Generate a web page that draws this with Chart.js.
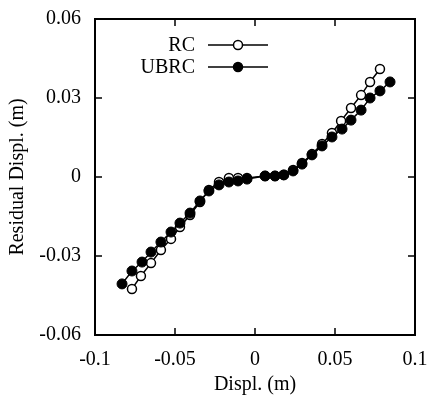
<!DOCTYPE html>
<html>
<head>
<meta charset="utf-8">
<script src="https://cdn.jsdelivr.net/npm/chart.js@4"></script>
<style>
  html, body { margin: 0; padding: 0; background: #fff; }
  #wrap { width: 428px; height: 401px; }
</style>
</head>
<body>
<div id="wrap"><canvas id="residualChart" width="428" height="401"></canvas></div>
<script>
// values
const rcX = [-0.0769, -0.0713, -0.065, -0.0588, -0.0525, -0.0469, -0.0406, -0.0344, -0.0288, -0.0225, -0.0163, -0.0106, -0.005,
  0.0063, 0.0125, 0.018, 0.0238, 0.0294, 0.0356, 0.0419, 0.0481, 0.0538, 0.06, 0.0663, 0.0719, 0.0781];
const rcY = [-0.0425, -0.0376, -0.0327, -0.0277, -0.0235, -0.019, -0.0144, -0.0095, -0.0049, -0.0019, -0.0004, -0.0004, -0.0004,
  0.0004, 0.0004, 0.0008, 0.0027, 0.0053, 0.0087, 0.0125, 0.0167, 0.0213, 0.0262, 0.0311, 0.0361, 0.041];
const ubrcX = [-0.0831, -0.0769, -0.0706, -0.065, -0.0588, -0.0525, -0.0469, -0.0406, -0.0344, -0.0288, -0.0225, -0.0163, -0.0106, -0.005,
  0.0063, 0.0125, 0.018, 0.0238, 0.0294, 0.0356, 0.0419, 0.0481, 0.0544, 0.06, 0.0663, 0.0719, 0.0781, 0.0844];
const ubrcY = [-0.0406, -0.0357, -0.0323, -0.0285, -0.0247, -0.0209, -0.0175, -0.0137, -0.0091, -0.0053, -0.003, -0.0019, -0.0015, -0.0008,
  0.0004, 0.0004, 0.0008, 0.0023, 0.0049, 0.0084, 0.0118, 0.0152, 0.0182, 0.0216, 0.0254, 0.03, 0.0327, 0.0361];

const xTicks = [-0.1, -0.05, 0, 0.05, 0.1];
const yTicks = [-0.06, -0.03, 0, 0.03, 0.06];
const xTickLabels = ["-0.1", "-0.05", "0", "0.05", "0.1"];
const yTickLabels = ["-0.06", "-0.03", "0", "0.03", "0.06"];
const seriesNames = ["RC", "UBRC"];

const FONT = "'Liberation Serif', 'DejaVu Serif', serif";

const toPoints = (xs, ys) => xs.map((x, i) => ({ x: x, y: ys[i] }));

// frame, inward ticks on all four sides, legend with text left of the sample
const framePlugin = {
  id: "frame",
  afterDraw(chart) {
    const c = chart.ctx;
    const a = chart.chartArea;
    const xs = chart.scales.x;
    const ys = chart.scales.y;
    c.save();
    c.strokeStyle = "#000";
    c.lineWidth = 2;
    c.strokeRect(a.left, a.top, a.right - a.left, a.bottom - a.top);
    c.lineWidth = 1.5;
    const tl = 7;
    xTicks.forEach((v) => {
      const px = xs.getPixelForValue(v);
      c.beginPath();
      c.moveTo(px, a.bottom); c.lineTo(px, a.bottom - tl);
      c.moveTo(px, a.top); c.lineTo(px, a.top + tl);
      c.stroke();
    });
    yTicks.forEach((v) => {
      const py = ys.getPixelForValue(v);
      c.beginPath();
      c.moveTo(a.left, py); c.lineTo(a.left + tl, py);
      c.moveTo(a.right, py); c.lineTo(a.right - tl, py);
      c.stroke();
    });

    // legend
    c.font = "20px " + FONT;
    c.textAlign = "right";
    c.textBaseline = "middle";
    c.fillStyle = "#000";
    chart.data.datasets.forEach((ds, i) => {
      const ly = a.top + 26 + i * 22;
      c.fillText(ds.label, a.left + 100, ly + 1);
      c.beginPath();
      c.lineWidth = 1.5;
      c.moveTo(a.left + 113, ly);
      c.lineTo(a.left + 173, ly);
      c.stroke();
      c.beginPath();
      c.arc(a.left + 143, ly, 4.5, 0, Math.PI * 2);
      c.fillStyle = ds.pointBackgroundColor;
      c.fill();
      c.stroke();
      c.fillStyle = "#000";
    });
    c.restore();
  },
};

const config = {
  type: "scatter",
  data: {
    datasets: [
      {
        label: seriesNames[0],
        data: toPoints(rcX, rcY),
        order: 1,
        showLine: true,
        borderColor: "#000",
        borderWidth: 1.5,
        pointRadius: 4.5,
        pointBorderWidth: 1.5,
        pointBackgroundColor: "#fff",
        pointBorderColor: "#000",
      },
      {
        label: seriesNames[1],
        data: toPoints(ubrcX, ubrcY),
        order: 0,
        showLine: true,
        borderColor: "#000",
        borderWidth: 1.5,
        pointRadius: 5,
        pointBorderWidth: 1,
        pointBackgroundColor: "#000",
        pointBorderColor: "#000",
      },
    ],
  },
  options: {
    responsive: false,
    animation: false,
    layout: { padding: { left: 0, right: 13, top: 19, bottom: 0 } },
    plugins: { legend: { display: false }, tooltip: { enabled: false } },
    scales: {
      x: {
        type: "linear",
        min: -0.1,
        max: 0.1,
        afterFit: (s) => {
          s.height = 66;
          s.paddingLeft = 0;
          s.paddingRight = 0;
        },
        afterBuildTicks: (s) => { s.ticks = xTicks.map((v) => ({ value: v })); },
        grid: { display: false },
        border: { display: false },
        ticks: {
          color: "#000",
          padding: 5,
          maxRotation: 0,
          font: { family: FONT, size: 20 },
          callback: (v) => xTickLabels[xTicks.indexOf(v)] ?? "",
        },
        title: {
          display: true,
          text: "Displ. (m)",
          color: "#000",
          padding: { top: 4 },
          font: { family: FONT, size: 20 },
        },
      },
      y: {
        type: "linear",
        min: -0.06,
        max: 0.06,
        afterFit: (s) => {
          s.width = 95;
          s.paddingTop = 0;
          s.paddingBottom = 0;
        },
        afterBuildTicks: (s) => { s.ticks = yTicks.map((v) => ({ value: v })); },
        grid: { display: false },
        border: { display: false },
        ticks: {
          color: "#000",
          padding: 6,
          font: { family: FONT, size: 20 },
          callback: (v) => yTickLabels[yTicks.indexOf(v)] ?? "",
        },
        title: {
          display: true,
          text: "Residual Displ. (m)",
          color: "#000",
          padding: { top: 6, bottom: 0 },
          font: { family: FONT, size: 20 },
        },
      },
    },
  },
  plugins: [framePlugin],
};

const ctx = document.getElementById("residualChart").getContext("2d");
const residualChart = new Chart(ctx, config);
</script>
</body>
</html>
